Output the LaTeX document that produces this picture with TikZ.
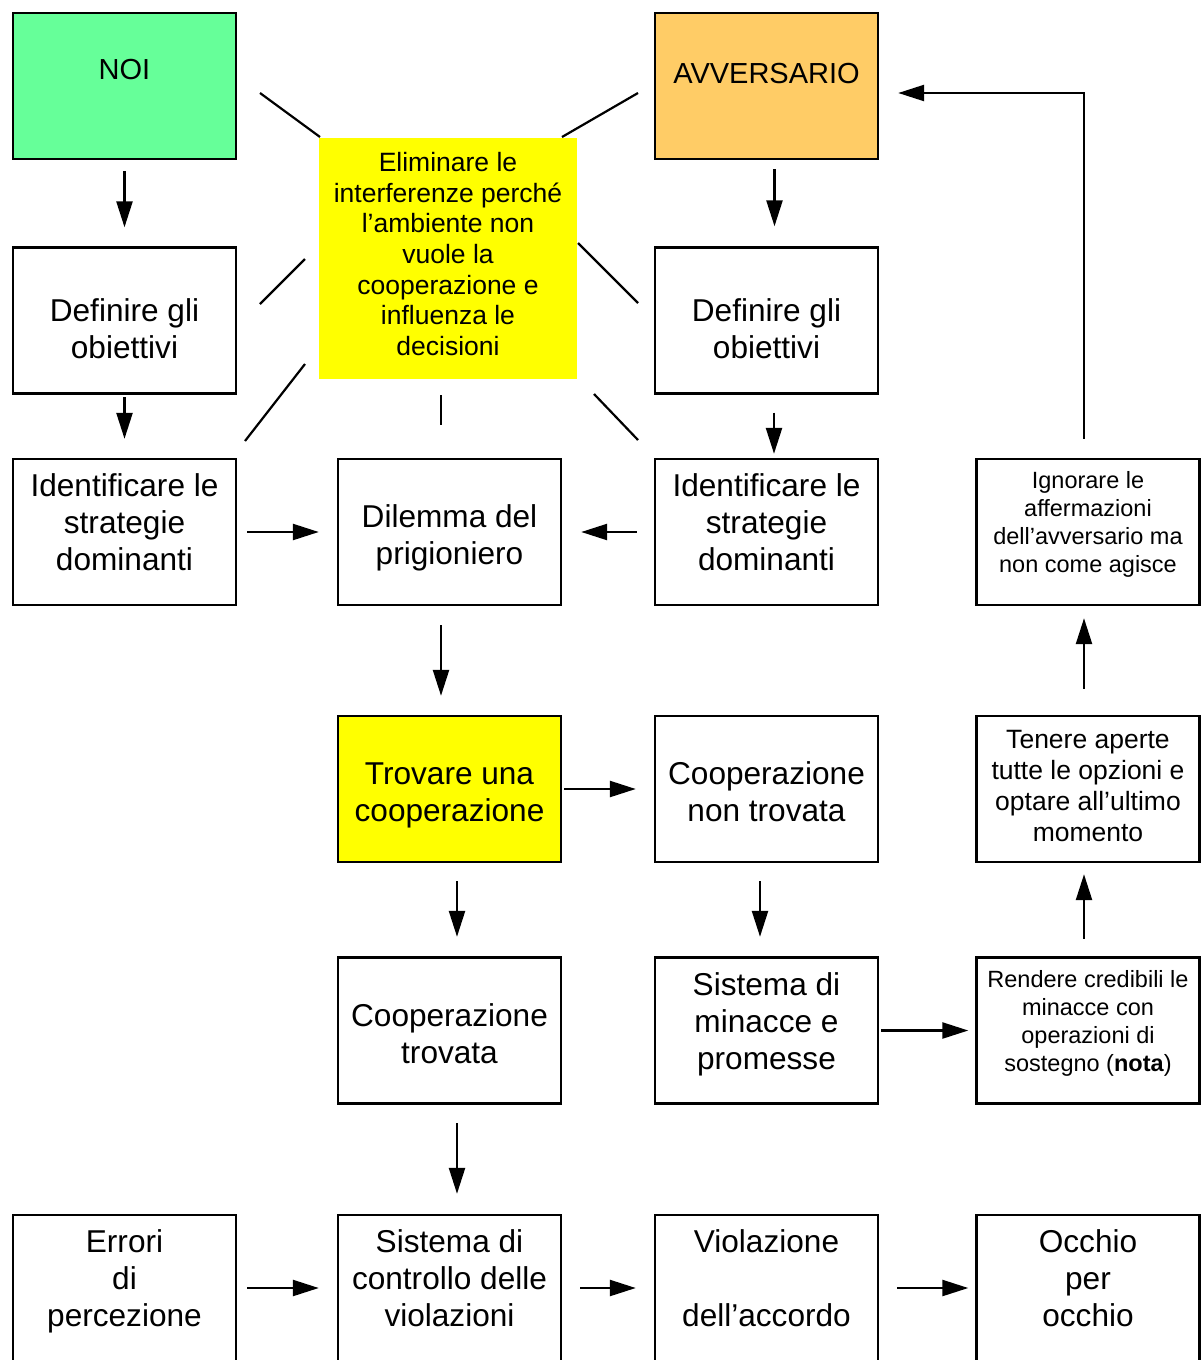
\documentclass[tikz,border=0pt]{standalone}
\usepackage{fontspec}
\setmainfont{Liberation Sans}
\usetikzlibrary{arrows.meta}

\definecolor{noigreen}{RGB}{102,255,153}
\definecolor{avvorange}{RGB}{255,204,102}
\definecolor{hiyellow}{RGB}{255,255,0}

\tikzset{
  box/.style={draw, line width=2.4pt, minimum width=223pt, minimum height=146pt, inner sep=0pt},
  txt/.style={align=center, inner sep=0pt, font=\fontsize{31.6}{37}\selectfont},
  midtxt/.style={txt, font=\fontsize{26.5}{30.7}\selectfont},
  smalltxt/.style={txt, font=\fontsize{23.5}{28}\selectfont},
  arr/.style={line width=2.4pt, -{Triangle[length=26pt,width=16pt]}},
  ray/.style={line width=2.2pt},
}

\begin{document}
\begin{tikzpicture}[x=1pt, y=-1pt]
\useasboundingbox (0,0) rectangle (1200,1360);
\fill[white] (0,0) rectangle (1200,1360);

% top row
\node[box, fill=noigreen] (noi) at (124.5,86) {};
\node[txt, font=\fontsize{29}{34}\selectfont] (noiT) at ([yshift=16pt]noi.center) {NOI};
\node[box, fill=avvorange] (avv) at (766.5,86) {};
\node[txt, font=\fontsize{29}{34}\selectfont] (avvT) at ([yshift=12pt]avv.center) {AVVERSARIO};

% central note
\node[fill=hiyellow, minimum width=258pt, minimum height=241pt, inner sep=0pt] (elim) at (448,258) {};
\node[midtxt] (elimT) at ([yshift=4pt]elim.center)
  {Eliminare le\\interferenze perché\\l’ambiente non\\vuole la\\cooperazione e\\influenza le\\decisioni};

% rays around the central note
\draw[ray] (260,93) -- (320,137);
\draw[ray] (562,137) -- (638,93);
\draw[ray] (305,259) -- (260,304);
\draw[ray] (578,243) -- (638,303);
\draw[ray] (305,364) -- (245,441);
\draw[ray] (441,395) -- (441,425);
\draw[ray] (594,394) -- (638,440);

% second row
\node[box] (defL) at (124.5,320.5) {};
\node[txt] (defLT) at ([yshift=-8pt]defL.center) {Definire gli\\obiettivi};
\node[box] (defR) at (766.5,320.5) {};
\node[txt] (defRT) at ([yshift=-8pt]defR.center) {Definire gli\\obiettivi};

% third row
\node[box] (idL) at (124.5,532) {};
\node[txt] (idLT) at ([yshift=10pt]idL.center) {Identificare le\\strategie\\dominanti};
\node[box] (dil) at (449.5,532) {};
\node[txt] (dilT) at ([yshift=-6pt]dil.center) {Dilemma del\\prigioniero};
\node[box] (idR) at (766.5,532) {};
\node[txt] (idRT) at ([yshift=10pt]idR.center) {Identificare le\\strategie\\dominanti};
\node[box] (ign) at (1088,532) {};
\node[smalltxt] (ignT) at ([yshift=8pt]ign.center) {Ignorare le\\affermazioni\\dell’avversario ma\\non come agisce};

% fourth row
\node[box, fill=hiyellow] (trov) at (449.5,789) {};
\node[txt] (trovT) at ([yshift=-6pt]trov.center) {Trovare una\\cooperazione};
\node[box] (nont) at (766.5,789) {};
\node[txt] (nontT) at ([yshift=-3pt]nont.center) {Cooperazione\\non trovata};
\node[box] (ten) at (1088,789) {};
\node[midtxt] (tenT) at ([yshift=3pt]ten.center) {Tenere aperte\\tutte le opzioni e\\optare all’ultimo\\momento};

% fifth row
\node[box] (coopT) at (449.5,1030.5) {};
\node[txt] (coopTT) at ([yshift=-3pt]coopT.center) {Cooperazione\\trovata};
\node[box] (minac) at (766.5,1030.5) {};
\node[txt] (minacT) at ([yshift=6pt]minac.center) {Sistema di\\minacce e\\promesse};
\node[box] (rend) at (1088,1030.5) {};
\node[smalltxt] (rendT) at ([yshift=7pt]rend.center) {Rendere credibili le\\minacce con\\operazioni di\\sostegno (\textbf{nota})};

% bottom row
\node[box] (err) at (124.5,1288) {};
\node[txt] (errT) at ([yshift=7pt]err.center) {Errori\\di\\percezione};
\node[box] (ctrl) at (449.5,1288) {};
\node[txt] (ctrlT) at ([yshift=10pt]ctrl.center) {Sistema di\\controllo delle\\violazioni};
\node[box] (viol) at (766.5,1288) {};
\node[txt] (violT) at ([yshift=10pt]viol.center) {Violazione\\[37pt]dell’accordo};
\node[box] (occ) at (1088,1288) {};
\node[txt] (occT) at ([yshift=10pt]occ.center) {Occhio\\per\\occhio};

% connectors
\draw[arr] ([yshift=-11pt]noi.south) -- ([yshift=19pt]defL.north);
\draw[arr] ([yshift=-2.5pt]defL.south) -- ([yshift=19pt]idL.north);
\draw[arr] ([xshift=8pt,yshift=-9pt]avv.south) -- ([xshift=8pt,yshift=20pt]defR.north);
\draw[arr] ([xshift=7.5pt,yshift=-18pt]defR.south) -- ([xshift=7.5pt,yshift=4pt]idR.north);
\draw[arr] ([xshift=10pt]idL.east) -- ([xshift=-18pt]dil.west);
\draw[arr] ([xshift=-17pt]idR.west) -- ([xshift=19pt]dil.east);
\draw[arr] ([xshift=-8.5pt,yshift=-19pt]dil.south) -- ([xshift=-8.5pt,yshift=19pt]trov.north);
\draw[arr] ([xshift=2pt]trov.east) -- ([xshift=-18pt]nont.west);
\draw[arr] ([xshift=7.5pt,yshift=-18pt]trov.south) -- ([xshift=7.5pt,yshift=19.5pt]coopT.north);
\draw[arr] ([xshift=-6.5pt,yshift=-18pt]nont.south) -- ([xshift=-6.5pt,yshift=19.5pt]minac.north);
\draw[arr] ([xshift=2pt]minac.east) -- ([xshift=-7pt]rend.west);
\draw[arr] ([xshift=-4pt,yshift=17.5pt]rend.north) -- ([xshift=-4pt,yshift=-11pt]ten.south);
\draw[arr] ([xshift=-4pt,yshift=26pt]ten.north) -- ([xshift=-4pt,yshift=-12pt]ign.south);
\draw[arr] ([xshift=-4pt,yshift=19pt]ign.north) |- ([xshift=19pt,yshift=-7pt]avv.east);
\draw[arr] ([xshift=7.5pt,yshift=-18.5pt]coopT.south) -- ([xshift=7.5pt,yshift=20pt]ctrl.north);
\draw[arr] ([xshift=10pt]err.east) -- ([xshift=-18pt]ctrl.west);
\draw[arr] ([xshift=18pt]ctrl.east) -- ([xshift=-18pt]viol.west);
\draw[arr] ([xshift=18pt]viol.east) -- ([xshift=-7pt]occ.west);
\end{tikzpicture}
\end{document}
